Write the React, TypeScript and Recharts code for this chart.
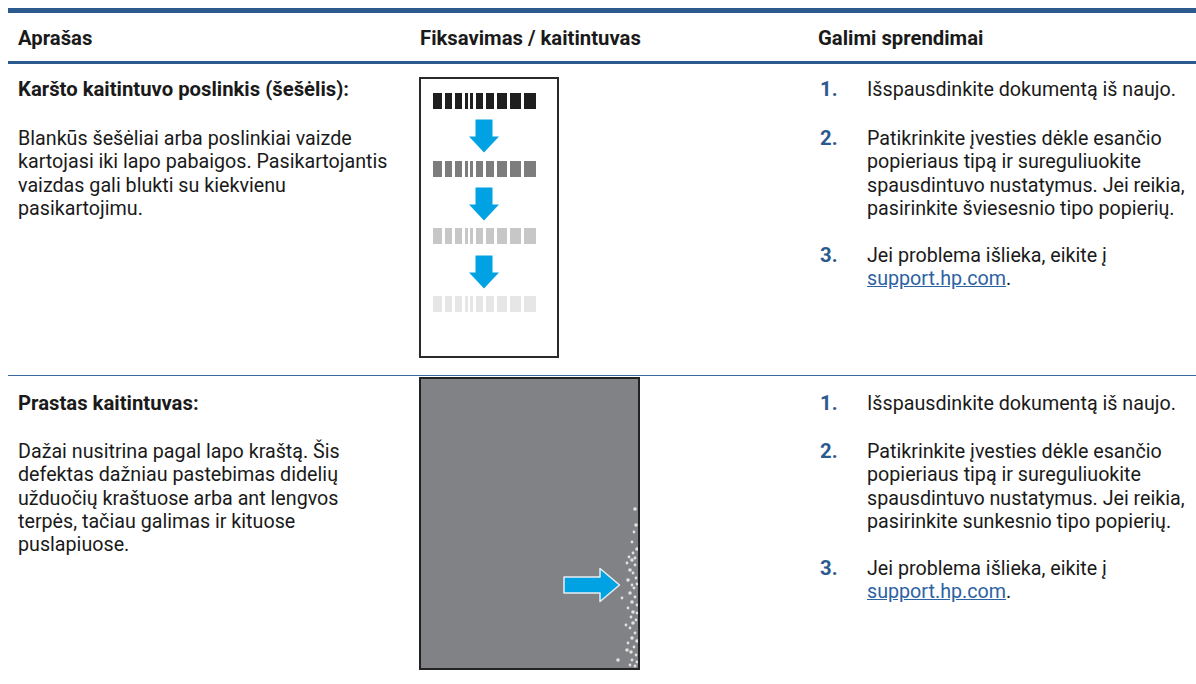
import React from 'react';
import { ComposedChart, XAxis, YAxis, Scatter, ReferenceArea } from 'recharts';

const columns = ['Aprašas', 'Fiksavimas / kaitintuvas', 'Galimi sprendimai'];

const rowTitles = ['Karšto kaitintuvo poslinkis (šešėlis):', 'Prastas kaitintuvas:'];
const rowBodies = [
  [
    'Blankūs šešėliai arba poslinkiai vaizde',
    'kartojasi iki lapo pabaigos. Pasikartojantis',
    'vaizdas gali blukti su kiekvienu',
    'pasikartojimu.',
  ],
  [
    'Dažai nusitrina pagal lapo kraštą. Šis',
    'defektas dažniau pastebimas didelių',
    'užduočių kraštuose arba ant lengvos',
    'terpės, tačiau galimas ir kituose',
    'puslapiuose.',
  ],
];

const stepReprint = 'Išspausdinkite dokumentą iš naujo.';
const stepPaper = [
  [
    'Patikrinkite įvesties dėkle esančio',
    'popieriaus tipą ir sureguliuokite',
    'spausdintuvo nustatymus. Jei reikia,',
    'pasirinkite šviesesnio tipo popierių.',
  ],
  [
    'Patikrinkite įvesties dėkle esančio',
    'popieriaus tipą ir sureguliuokite',
    'spausdintuvo nustatymus. Jei reikia,',
    'pasirinkite sunkesnio tipo popierių.',
  ],
];
const stepSupport = 'Jei problema išlieka, eikite į';
const supportLink = 'support.hp.com';

// ghost (hot offset) sample: bar x-ranges, row y-ranges, ink density per repeat
const barcodeBars = [
  [12, 21], [24, 31], [34, 41], [44, 47], [49, 52],
  [55, 62], [65, 73], [76, 86], [89, 100], [103, 115],
];
const ghostRows = [[14, 30], [82, 98], [149, 165], [217, 233]];
const ghostInk = [88, 51, 22, 10];
const ghostArrows = [
  { x: 63, y: 57 },
  { x: 63, y: 125 },
  { x: 63, y: 193 },
];

// poor fuser sample: white flecks along the right edge
const fuserArrow = [{ x: 171, y: 206 }];
const flecks = [
  { x: 214, y: 130 }, { x: 213, y: 153 }, { x: 211, y: 163 }, { x: 216, y: 170 },
  { x: 212, y: 174 }, { x: 214, y: 179 }, { x: 211, y: 181 }, { x: 206, y: 184 },
  { x: 214, y: 186 }, { x: 209, y: 191 }, { x: 212, y: 194 }, { x: 215, y: 199 },
  { x: 207, y: 201 }, { x: 211, y: 206 }, { x: 213, y: 209 }, { x: 209, y: 214 },
  { x: 214, y: 218 }, { x: 201, y: 219 }, { x: 211, y: 223 }, { x: 216, y: 226 },
  { x: 207, y: 229 }, { x: 212, y: 233 }, { x: 210, y: 238 }, { x: 215, y: 241 },
  { x: 212, y: 244 }, { x: 209, y: 249 }, { x: 214, y: 254 }, { x: 211, y: 259 },
  { x: 207, y: 264 }, { x: 213, y: 268 }, { x: 210, y: 273 }, { x: 215, y: 276 },
  { x: 211, y: 281 }, { x: 197, y: 281 }, { x: 209, y: 286 }, { x: 214, y: 287 },
  { x: 215, y: 146 }, { x: 216, y: 205 }, { x: 205, y: 246 }, { x: 216, y: 262 },
  { x: 208, y: 178 }, { x: 216, y: 234 }, { x: 206, y: 271 }, { x: 216, y: 283 },
];

const BLUE = '#2c5a8e';
const ARROW = '#00a2e3';
const LINE = 23.3;

const inkColor = (ink: number) => {
  const v = Math.round(255 - ink * 2.55);
  return `rgb(${v},${v},${v})`;
};

const DownArrow = (p: any) => {
  const { cx, cy } = p;
  const top = cy - 16.5;
  const neck = cy + 0.5;
  const tip = cy + 16.5;
  const pts = [
    [cx - 8.5, top], [cx + 8.5, top], [cx + 8.5, neck], [cx + 15, neck],
    [cx, tip], [cx - 15, neck], [cx - 8.5, neck],
  ];
  return <polygon points={pts.map((q) => q.join(',')).join(' ')} fill={ARROW} />;
};

const RightArrow = (p: any) => {
  const { cx, cy } = p;
  const left = cx - 28;
  const neck = cx + 8;
  const tip = cx + 27.5;
  const pts = [
    [left, cy - 8], [neck, cy - 8], [neck, cy - 16.5], [tip, cy],
    [neck, cy + 16.5], [neck, cy + 8], [left, cy + 8],
  ];
  return (
    <polygon
      points={pts.map((q) => q.join(',')).join(' ')}
      fill={ARROW}
      stroke="#e8eef2"
      strokeWidth={1.5}
      strokeLinejoin="round"
    />
  );
};

const Fleck = (p: any) => (
  <circle cx={p.cx} cy={p.cy} r={p.index % 3 === 0 ? 1.8 : 1.4} fill="#f2f2f2" fillOpacity={0.85} />
);

function GhostChart() {
  const areas = ghostRows.flatMap((r, i) =>
    barcodeBars.map((b, j) => (
      <ReferenceArea
        key={`g-${i}-${j}`}
        x1={b[0]}
        x2={b[1]}
        y1={r[0]}
        y2={r[1]}
        fill={inkColor(ghostInk[i])}
        fillOpacity={1}
        stroke="none"
      />
    ))
  );
  return (
    <ComposedChart width={136} height={277} margin={{ top: 0, right: 0, bottom: 0, left: 0 }} style={{ filter: 'blur(0.5px)' }}>
      <XAxis type="number" dataKey="x" domain={[0, 136]} hide allowDataOverflow />
      <YAxis type="number" dataKey="y" domain={[0, 277]} reversed hide allowDataOverflow />
      {areas}
      <Scatter data={ghostArrows} dataKey="y" shape={DownArrow} isAnimationActive={false} />
    </ComposedChart>
  );
}

function FuserChart() {
  return (
    <ComposedChart width={217} height={289} margin={{ top: 0, right: 0, bottom: 0, left: 0 }}>
      <XAxis type="number" dataKey="x" domain={[0, 217]} hide allowDataOverflow />
      <YAxis type="number" dataKey="y" domain={[0, 289]} reversed hide allowDataOverflow />
      <ReferenceArea x1={0} x2={217} y1={0} y2={289} fill="#818285" fillOpacity={1} stroke="none" />
      <Scatter data={flecks} dataKey="y" shape={Fleck} isAnimationActive={false} />
      <Scatter data={fuserArrow} dataKey="y" shape={RightArrow} isAnimationActive={false} />
    </ComposedChart>
  );
}

const txt: React.CSSProperties = {
  position: 'absolute',
  fontSize: '19.7px',
  lineHeight: `${LINE}px`,
  color: '#1a1a1a',
  whiteSpace: 'nowrap',
};
const bold: React.CSSProperties = { ...txt, fontSize: '20.3px', fontWeight: 700 };

function Lines({ lines, left, top }: { lines: string[]; left: number; top: number }) {
  return (
    <div style={{ ...txt, left, top }}>
      {lines.map((l, i) => (
        <div key={i}>{l}</div>
      ))}
    </div>
  );
}

function Num({ n, left, top }: { n: number; left: number; top: number }) {
  return <div style={{ ...bold, left, top, color: BLUE }}>{n}.</div>;
}

function Solutions({ row, top, bodyTop }: { row: number; top: number; bodyTop: number }) {
  const thirdTop = bodyTop + LINE * 5;
  return (
    <>
      <Num n={1} left={820} top={top} />
      <Lines lines={[stepReprint]} left={867} top={top} />
      <Num n={2} left={820} top={bodyTop} />
      <Lines lines={stepPaper[row]} left={867} top={bodyTop} />
      <Num n={3} left={820} top={thirdTop} />
      <div style={{ ...txt, left: 867, top: thirdTop }}>
        <div>{stepSupport}</div>
        <div>
          <span style={{ color: '#2d62a3', textDecoration: 'underline' }}>{supportLink}</span>.
        </div>
      </div>
    </>
  );
}

export default function App() {
  const titleTops = [78, 392];
  const bodyTops = [127, 440];
  return (
    <div
      style={{
        position: 'absolute',
        left: 0,
        top: 0,
        width: 1196,
        height: 684,
        background: '#fff',
        fontFamily: 'Roboto, "Noto Sans", sans-serif',
        overflow: 'hidden',
      }}
    >
      <div style={{ position: 'absolute', left: 8, top: 8, width: 1188, height: 5, background: BLUE }} />
      {columns.map((c, i) => (
        <div key={c} style={{ ...bold, left: [18, 420, 818][i], top: 27 }}>
          {c}
        </div>
      ))}
      <div style={{ position: 'absolute', left: 8, top: 61, width: 1188, height: 3, background: BLUE }} />
      <div style={{ position: 'absolute', left: 8, top: 374.5, width: 1188, height: 1.5, background: '#3a66a0' }} />

      {rowTitles.map((t, i) => (
        <React.Fragment key={t}>
          <div style={{ ...bold, left: 18, top: titleTops[i] }}>{t}</div>
          <Lines lines={rowBodies[i]} left={18} top={bodyTops[i]} />
          <Solutions row={i} top={titleTops[i]} bodyTop={bodyTops[i]} />
        </React.Fragment>
      ))}

      <div style={{ position: 'absolute', left: 419, top: 77, width: 140, height: 281, border: '2px solid #2a2a2a', boxSizing: 'border-box', background: '#fff' }}>
        <GhostChart />
      </div>
      <div style={{ position: 'absolute', left: 419, top: 377, width: 221, height: 293, border: '2px solid #222', boxSizing: 'border-box' }}>
        <FuserChart />
      </div>
    </div>
  );
}
